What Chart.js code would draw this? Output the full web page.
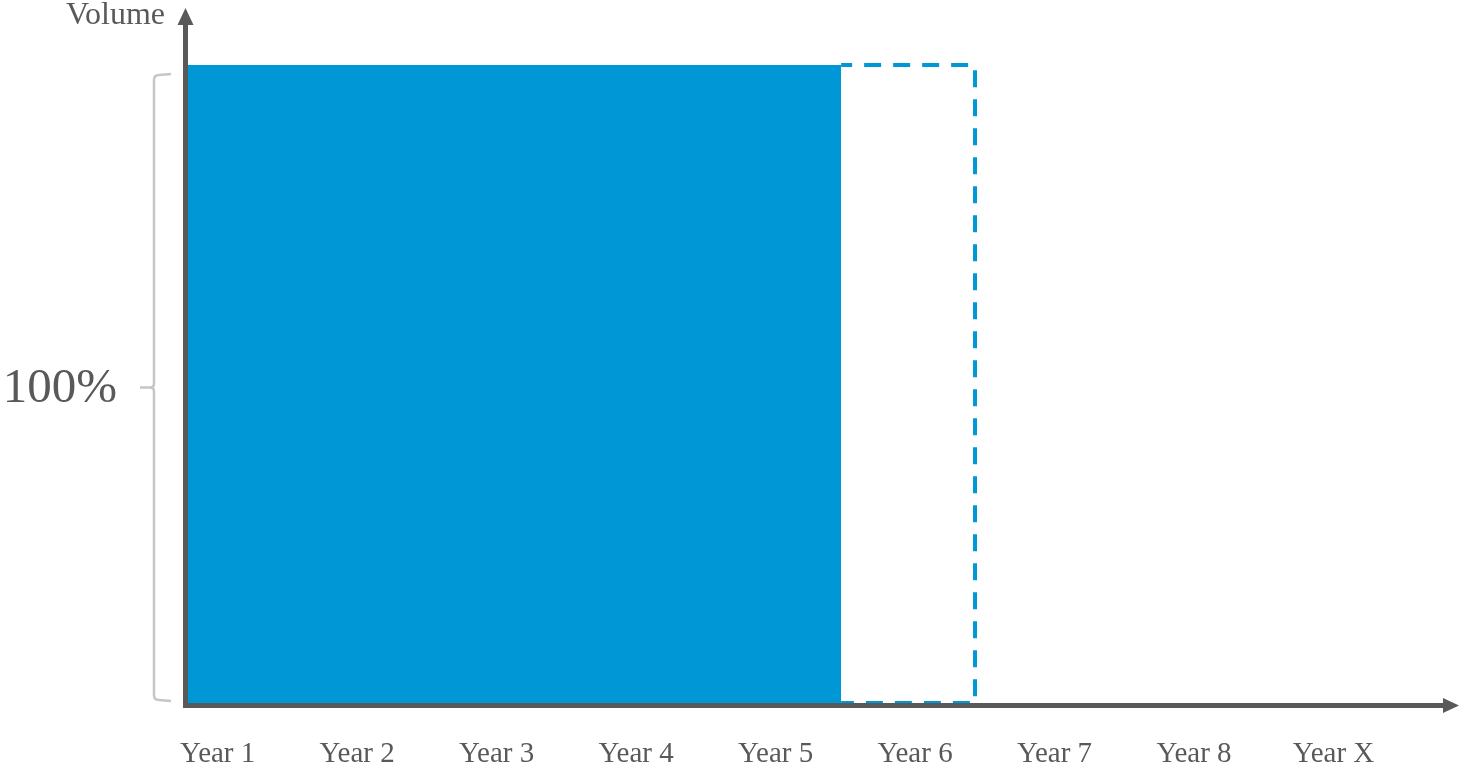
<!DOCTYPE html>
<html>
<head>
<meta charset="utf-8">
<title>Volume</title>
<script src="https://cdn.jsdelivr.net/npm/chart.js@4"></script>
<style>
  html, body { margin: 0; padding: 0; background: #ffffff; }
  #wrap { width: 1460px; height: 768px; position: relative; }
</style>
</head>
<body>
<div id="wrap"><canvas id="chart"></canvas></div>
<script>
// Time-axis labels and where each one sits on the year scale
const categories = ['Year 1', 'Year 2', 'Year 3', 'Year 4', 'Year 5', 'Year 6', 'Year 7', 'Year 8', 'Year X'];
const tickYears = [1, 2, 3, 4, 5, 6, 7, 8, 9];

// Volume share, in percent
const volumePct = 100;
const volumeLabel = '100%';

// Period covered by the filled block and by the dashed (projected) block
const actualSpan = [0.78, 5.47];
const projectedSpan = [5.47, 6.43];

const axisMin = 0.78;
const axisMax = 9.9;
const volumeMax = 108;

const INK = '#595959';
const BLUE = '#0097d7';
const BRACKET = '#c6c6c6';
const SERIF = '"Liberation Serif", "DejaVu Serif", serif';

// Axes with arrow heads, the bracket with its percentage, and the axis title
const decorations = {
  id: 'decorations',
  afterDatasetsDraw(chart) {
    const { ctx, chartArea: a, scales } = chart;
    const y = scales.y;
    ctx.save();

    // vertical axis
    const ax = a.left - 1.5;
    const xAxisY = a.bottom + 2.5;
    ctx.strokeStyle = INK;
    ctx.fillStyle = INK;
    ctx.lineWidth = 5;
    ctx.beginPath();
    ctx.moveTo(ax, xAxisY + 2.5);
    ctx.lineTo(ax, a.top + 10);
    ctx.stroke();
    ctx.beginPath();
    ctx.moveTo(ax, a.top - 6);
    ctx.lineTo(ax - 8, a.top + 11);
    ctx.lineTo(ax + 8, a.top + 11);
    ctx.closePath();
    ctx.fill();

    // horizontal axis
    ctx.beginPath();
    ctx.moveTo(ax - 2.5, xAxisY);
    ctx.lineTo(a.right - 15, xAxisY);
    ctx.stroke();
    ctx.beginPath();
    ctx.moveTo(a.right, xAxisY);
    ctx.lineTo(a.right - 16, xAxisY - 7.5);
    ctx.lineTo(a.right - 16, xAxisY + 7.5);
    ctx.closePath();
    ctx.fill();

    // bracket spanning the volume
    const bTop = y.getPixelForValue(volumePct) + 10;
    const bBot = y.getPixelForValue(0) - 3;
    const bMid = (bTop + bBot) / 2;
    const bx = a.left - 33;
    ctx.strokeStyle = BRACKET;
    ctx.lineWidth = 2.5;
    ctx.lineJoin = 'round';
    ctx.beginPath();
    ctx.moveTo(bx + 17, bTop - 1);
    ctx.lineTo(bx + 5, bTop);
    ctx.quadraticCurveTo(bx, bTop, bx, bTop + 5);
    ctx.lineTo(bx, bMid - 4);
    ctx.quadraticCurveTo(bx, bMid, bx - 4, bMid);
    ctx.lineTo(bx - 14, bMid);
    ctx.moveTo(bx - 4, bMid);
    ctx.quadraticCurveTo(bx, bMid, bx, bMid + 4);
    ctx.lineTo(bx, bBot - 5);
    ctx.quadraticCurveTo(bx, bBot, bx + 5, bBot);
    ctx.lineTo(bx + 17, bBot + 1);
    ctx.stroke();

    // percentage beside the bracket
    ctx.fillStyle = INK;
    ctx.font = '49px ' + SERIF;
    ctx.textAlign = 'right';
    ctx.textBaseline = 'middle';
    ctx.fillText(volumeLabel, a.left - 70, bMid + 2);

    // axis title
    ctx.font = '32px ' + SERIF;
    ctx.textAlign = 'right';
    ctx.textBaseline = 'alphabetic';
    ctx.fillText('Volume', a.left - 22, 24);

    ctx.restore();
  }
};

new Chart(document.getElementById('chart'), {
  type: 'scatter',
  data: {
    datasets: [
      {
        label: 'Volume',
        data: [{ x: actualSpan[0], y: volumePct }, { x: actualSpan[1], y: volumePct }],
        showLine: true,
        fill: 'origin',
        backgroundColor: BLUE,
        borderColor: BLUE,
        borderWidth: 0,
        pointRadius: 0,
        order: 0
      },
      {
        label: 'Projected',
        data: [
          { x: projectedSpan[0], y: volumePct },
          { x: projectedSpan[1], y: volumePct },
          { x: projectedSpan[1], y: 0 },
          { x: projectedSpan[0], y: 0 }
        ],
        showLine: true,
        fill: false,
        borderColor: BLUE,
        borderWidth: 4,
        borderDash: [17, 12],
        borderDashOffset: 6,
        pointRadius: 0,
        tension: 0,
        order: 1
      }
    ]
  },
  options: {
    responsive: true,
    maintainAspectRatio: false,
    animation: false,
    devicePixelRatio: 1,
    layout: { padding: { left: 187, right: 1, top: 14, bottom: 0 } },
    plugins: {
      legend: { display: false },
      tooltip: { enabled: false }
    },
    scales: {
      x: {
        type: 'linear',
        min: axisMin,
        max: axisMax,
        grid: { display: false, drawTicks: false },
        border: { display: false },
        afterBuildTicks: (scale) => { scale.ticks = tickYears.map(v => ({ value: v })); },
        afterFit: (scale) => { scale.height = 65; },
        ticks: {
          autoSkip: false,
          maxRotation: 0,
          padding: 34,
          color: INK,
          font: { family: SERIF, size: 29 },
          callback: (v) => categories[tickYears.indexOf(v)]
        }
      },
      y: {
        display: false,
        min: 0,
        max: volumeMax
      }
    }
  },
  plugins: [decorations]
});
</script>
</body>
</html>
